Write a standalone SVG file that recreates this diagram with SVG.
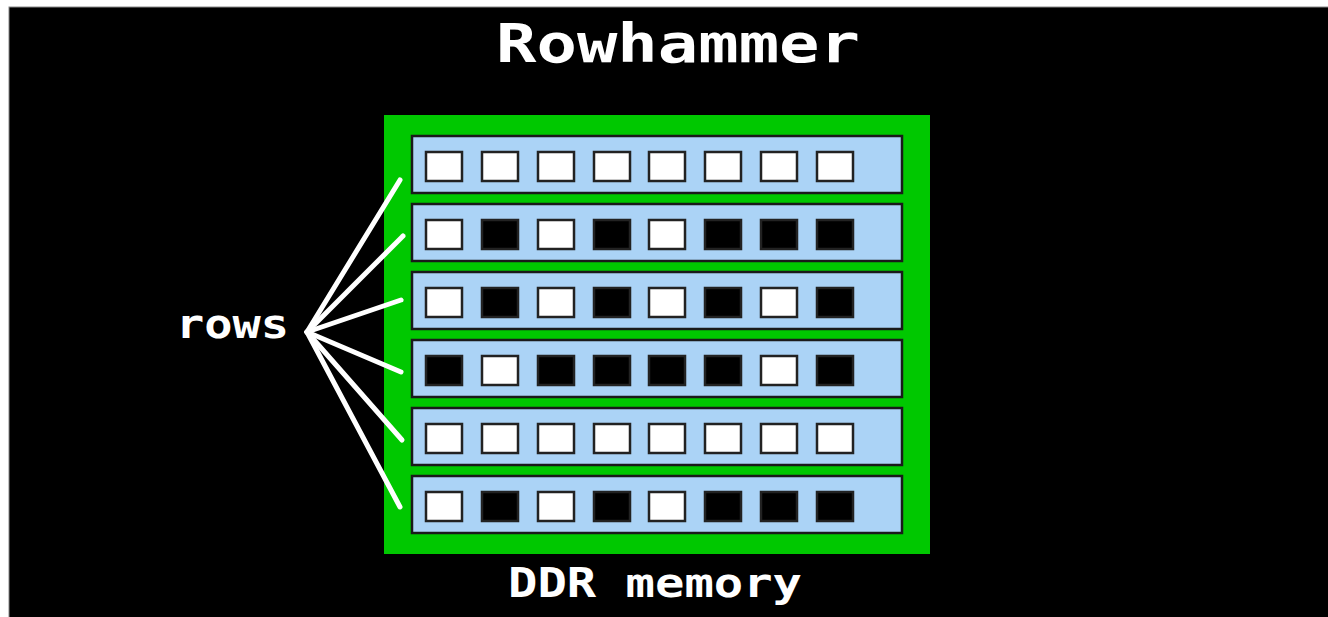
<svg xmlns="http://www.w3.org/2000/svg" width="1328" height="617" viewBox="0 0 1328 617">
<style>
.t{font-family:"DejaVu Sans Mono","Liberation Mono",monospace;font-weight:bold;fill:#fff}
.row{fill:#abd3f6;stroke:#1a1a1a;stroke-width:2.5}
.w{fill:#fff;stroke:#222;stroke-width:2.5}
.b{fill:#000;stroke:#222;stroke-width:2.5}
.ln{stroke:#fff;stroke-width:5;stroke-linecap:round;fill:none}
</style>
<rect x="0" y="0" width="1328" height="617" fill="#fff"/>
<rect x="9" y="7" width="1320" height="611" fill="#000" stroke="#888" stroke-width="1"/>
<g id="title"><text class="t" x="496" y="62" font-size="53" textLength="364" lengthAdjust="spacingAndGlyphs">Rowhammer</text></g>
<g id="memory">
<rect x="384" y="115" width="546" height="439" fill="#00c800"/>
<g id="row1"><rect class="row" x="412" y="136" width="490" height="57"/>
<rect class="w" x="426" y="152" width="36" height="29"/><rect class="w" x="482" y="152" width="36" height="29"/><rect class="w" x="538" y="152" width="36" height="29"/><rect class="w" x="594" y="152" width="36" height="29"/><rect class="w" x="649" y="152" width="36" height="29"/><rect class="w" x="705" y="152" width="36" height="29"/><rect class="w" x="761" y="152" width="36" height="29"/><rect class="w" x="817" y="152" width="36" height="29"/></g>
<g id="row2"><rect class="row" x="412" y="204" width="490" height="57"/>
<rect class="w" x="426" y="220" width="36" height="29"/><rect class="b" x="482" y="220" width="36" height="29"/><rect class="w" x="538" y="220" width="36" height="29"/><rect class="b" x="594" y="220" width="36" height="29"/><rect class="w" x="649" y="220" width="36" height="29"/><rect class="b" x="705" y="220" width="36" height="29"/><rect class="b" x="761" y="220" width="36" height="29"/><rect class="b" x="817" y="220" width="36" height="29"/></g>
<g id="row3"><rect class="row" x="412" y="272" width="490" height="57"/>
<rect class="w" x="426" y="288" width="36" height="29"/><rect class="b" x="482" y="288" width="36" height="29"/><rect class="w" x="538" y="288" width="36" height="29"/><rect class="b" x="594" y="288" width="36" height="29"/><rect class="w" x="649" y="288" width="36" height="29"/><rect class="b" x="705" y="288" width="36" height="29"/><rect class="w" x="761" y="288" width="36" height="29"/><rect class="b" x="817" y="288" width="36" height="29"/></g>
<g id="row4"><rect class="row" x="412" y="340" width="490" height="57"/>
<rect class="b" x="426" y="356" width="36" height="29"/><rect class="w" x="482" y="356" width="36" height="29"/><rect class="b" x="538" y="356" width="36" height="29"/><rect class="b" x="594" y="356" width="36" height="29"/><rect class="b" x="649" y="356" width="36" height="29"/><rect class="b" x="705" y="356" width="36" height="29"/><rect class="w" x="761" y="356" width="36" height="29"/><rect class="b" x="817" y="356" width="36" height="29"/></g>
<g id="row5"><rect class="row" x="412" y="408" width="490" height="57"/>
<rect class="w" x="426" y="424" width="36" height="29"/><rect class="w" x="482" y="424" width="36" height="29"/><rect class="w" x="538" y="424" width="36" height="29"/><rect class="w" x="594" y="424" width="36" height="29"/><rect class="w" x="649" y="424" width="36" height="29"/><rect class="w" x="705" y="424" width="36" height="29"/><rect class="w" x="761" y="424" width="36" height="29"/><rect class="w" x="817" y="424" width="36" height="29"/></g>
<g id="row6"><rect class="row" x="412" y="476" width="490" height="57"/>
<rect class="w" x="426" y="492" width="36" height="29"/><rect class="b" x="482" y="492" width="36" height="29"/><rect class="w" x="538" y="492" width="36" height="29"/><rect class="b" x="594" y="492" width="36" height="29"/><rect class="w" x="649" y="492" width="36" height="29"/><rect class="b" x="705" y="492" width="36" height="29"/><rect class="b" x="761" y="492" width="36" height="29"/><rect class="b" x="817" y="492" width="36" height="29"/></g>
</g>
<g id="rows-label"><text class="t" x="176" y="338" font-size="40" textLength="113" lengthAdjust="spacingAndGlyphs">rows</text></g>
<g id="connectors">
<line class="ln" x1="307" y1="332" x2="400" y2="180"/>
<line class="ln" x1="307" y1="332" x2="403" y2="236"/>
<line class="ln" x1="307" y1="332" x2="401" y2="300"/>
<line class="ln" x1="307" y1="332" x2="401" y2="372"/>
<line class="ln" x1="307" y1="332" x2="402" y2="440"/>
<line class="ln" x1="307" y1="332" x2="400" y2="507"/>
</g>
<g id="ddr-label"><text class="t" x="508" y="597" font-size="40" textLength="294" lengthAdjust="spacingAndGlyphs">DDR memory</text></g>
</svg>
